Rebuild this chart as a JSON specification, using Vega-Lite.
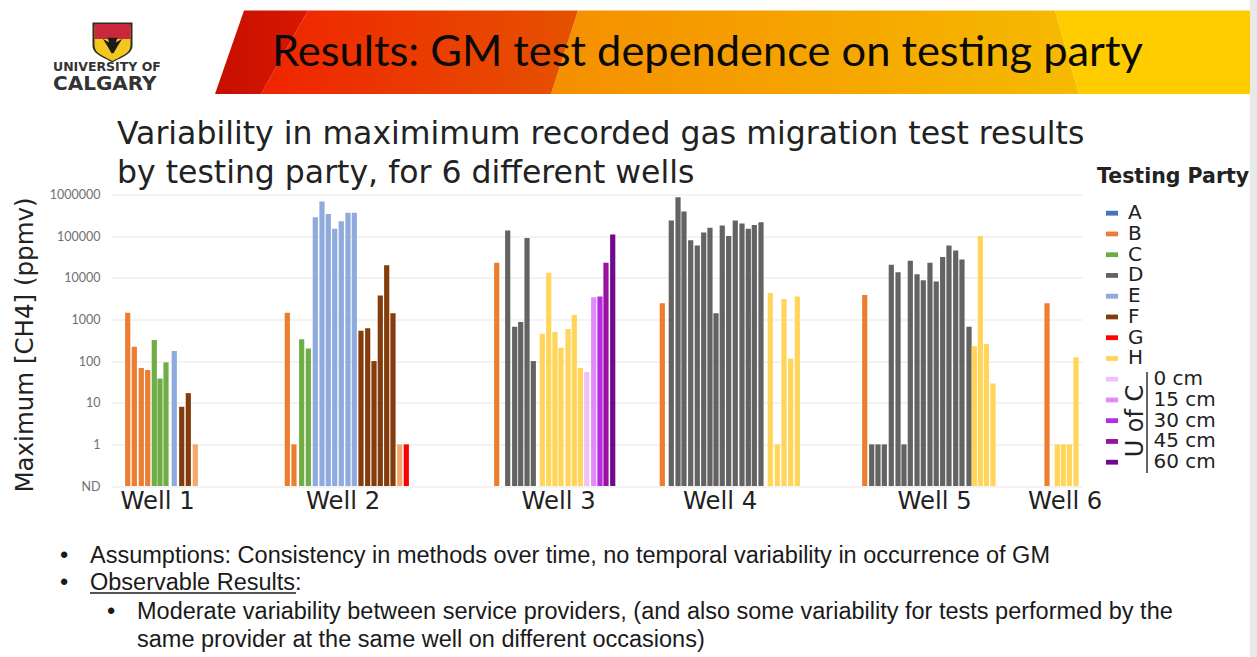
{
"$schema":"https://vega.github.io/schema/vega-lite/v6.json",
"width":970,"height":291.5,
"autosize":"none",
"padding":{"left":112,"top":194.5,"right":175,"bottom":171},
"background":"white",
"config":{"view":{"stroke":null}},
"resolve":{"scale":{"x":"independent","y":"independent"}},
"layer":[
{
"encoding":{
 "x":{"field":"slot","type":"quantitative","scale":{"domain":[0,150],"nice":false,"zero":false,"padding":0},"axis":null},
 "y":{"field":"value","type":"quantitative","stack":null,"scale":{"type":"log","domain":[0.1,1000000],"nice":false},
  "axis":{"title":"Maximum [CH4] (ppmv)","titleFont":"DejaVu Sans","titleFontSize":24.5,"titleFontWeight":"normal","titleColor":"#222222","titleX":-75,"titleY":150,
   "values":[0.1,1,10,100,1000,10000,100000,1000000],"labelExpr":"datum.value<1?'ND':format(datum.value,'d')","labelFont":"Lato","labelFontSize":12.5,"labelColor":"#707070","labelPadding":12,"labelOverlap":false,"labelBound":false,
   "ticks":false,"domain":false,"grid":true,"gridColor":"#efefef","gridWidth":1.5}}
},
"layer":[
{
"data":{"values":[
{"well":"Well 1","party":"B","slot":2.43,"value":1456},
{"well":"Well 1","party":"B","slot":3.45,"value":222},
{"well":"Well 1","party":"B","slot":4.53,"value":68},
{"well":"Well 1","party":"B","slot":5.52,"value":61},
{"well":"Well 1","party":"C","slot":6.54,"value":321},
{"well":"Well 1","party":"C","slot":7.42,"value":38},
{"well":"Well 1","party":"C","slot":8.35,"value":93},
{"well":"Well 1","party":"E","slot":9.63,"value":175},
{"well":"Well 1","party":"F","slot":10.78,"value":8},
{"well":"Well 1","party":"F","slot":11.8,"value":17},
{"well":"Well 1","party":"B light","slot":12.88,"value":1},
{"well":"Well 2","party":"B","slot":27.11,"value":1456},
{"well":"Well 2","party":"B","slot":28.14,"value":1},
{"well":"Well 2","party":"C","slot":29.33,"value":333},
{"well":"Well 2","party":"C","slot":30.36,"value":200},
{"well":"Well 2","party":"E","slot":31.44,"value":284000},
{"well":"Well 2","party":"E","slot":32.47,"value":676000},
{"well":"Well 2","party":"E","slot":33.45,"value":341000},
{"well":"Well 2","party":"E","slot":34.44,"value":151000},
{"well":"Well 2","party":"E","slot":35.46,"value":227000},
{"well":"Well 2","party":"E","slot":36.49,"value":367000},
{"well":"Well 2","party":"E","slot":37.47,"value":367000},
{"well":"Well 2","party":"F","slot":38.5,"value":538},
{"well":"Well 2","party":"F","slot":39.54,"value":612},
{"well":"Well 2","party":"F","slot":40.52,"value":100},
{"well":"Well 2","party":"F","slot":41.49,"value":3730},
{"well":"Well 2","party":"F","slot":42.48,"value":20000},
{"well":"Well 2","party":"F","slot":43.45,"value":1400},
{"well":"Well 2","party":"B light","slot":44.49,"value":1},
{"well":"Well 2","party":"G","slot":45.51,"value":1},
{"well":"Well 3","party":"B","slot":59.49,"value":23100},
{"well":"Well 3","party":"D","slot":61.19,"value":135800},
{"well":"Well 3","party":"D","slot":62.27,"value":671},
{"well":"Well 3","party":"D","slot":63.2,"value":870},
{"well":"Well 3","party":"D","slot":64.18,"value":90600},
{"well":"Well 3","party":"D","slot":65.15,"value":100},
{"well":"Well 3","party":"H","slot":66.54,"value":456},
{"well":"Well 3","party":"H","slot":67.53,"value":13300},
{"well":"Well 3","party":"H","slot":68.5,"value":500},
{"well":"Well 3","party":"H","slot":69.43,"value":210},
{"well":"Well 3","party":"H","slot":70.52,"value":590},
{"well":"Well 3","party":"H","slot":71.49,"value":1280},
{"well":"Well 3","party":"H","slot":72.42,"value":68},
{"well":"Well 3","party":"0 cm","slot":73.41,"value":55},
{"well":"Well 3","party":"15 cm","slot":74.49,"value":3400},
{"well":"Well 3","party":"30 cm","slot":75.46,"value":3530},
{"well":"Well 3","party":"45 cm","slot":76.39,"value":23100},
{"well":"Well 3","party":"60 cm","slot":77.43,"value":109000},
{"well":"Well 4","party":"B","slot":85.1,"value":2440},
{"well":"Well 4","party":"D","slot":86.49,"value":236000},
{"well":"Well 4","party":"D","slot":87.53,"value":859000},
{"well":"Well 4","party":"D","slot":88.45,"value":389000},
{"well":"Well 4","party":"D","slot":89.49,"value":79400},
{"well":"Well 4","party":"D","slot":90.51,"value":59300},
{"well":"Well 4","party":"D","slot":91.5,"value":121600},
{"well":"Well 4","party":"D","slot":92.47,"value":160000},
{"well":"Well 4","party":"D","slot":93.4,"value":1400},
{"well":"Well 4","party":"D","slot":94.37,"value":179000},
{"well":"Well 4","party":"D","slot":95.36,"value":101000},
{"well":"Well 4","party":"D","slot":96.38,"value":236000},
{"well":"Well 4","party":"D","slot":97.42,"value":200000},
{"well":"Well 4","party":"D","slot":98.4,"value":151000},
{"well":"Well 4","party":"D","slot":99.33,"value":186000},
{"well":"Well 4","party":"D","slot":100.36,"value":215000},
{"well":"Well 4","party":"H","slot":101.8,"value":4320},
{"well":"Well 4","party":"H","slot":102.88,"value":1},
{"well":"Well 4","party":"H","slot":103.92,"value":3100},
{"well":"Well 4","party":"H","slot":104.95,"value":114},
{"well":"Well 4","party":"H","slot":105.98,"value":3530},
{"well":"Well 5","party":"B","slot":116.4,"value":3870},
{"well":"Well 5","party":"D","slot":117.48,"value":1},
{"well":"Well 5","party":"D","slot":118.45,"value":1},
{"well":"Well 5","party":"D","slot":119.43,"value":1},
{"well":"Well 5","party":"D","slot":120.51,"value":20700},
{"well":"Well 5","party":"D","slot":121.55,"value":13500},
{"well":"Well 5","party":"D","slot":122.47,"value":1},
{"well":"Well 5","party":"D","slot":123.45,"value":25800},
{"well":"Well 5","party":"D","slot":124.49,"value":12100},
{"well":"Well 5","party":"D","slot":125.46,"value":8700},
{"well":"Well 5","party":"D","slot":126.49,"value":23100},
{"well":"Well 5","party":"D","slot":127.46,"value":8090},
{"well":"Well 5","party":"D","slot":128.45,"value":31600},
{"well":"Well 5","party":"D","slot":129.43,"value":59300},
{"well":"Well 5","party":"D","slot":130.47,"value":44900},
{"well":"Well 5","party":"D","slot":131.44,"value":27300},
{"well":"Well 5","party":"D","slot":132.53,"value":671},
{"well":"Well 5","party":"H","slot":133.35,"value":231},
{"well":"Well 5","party":"H","slot":134.28,"value":101000},
{"well":"Well 5","party":"H","slot":135.21,"value":257},
{"well":"Well 5","party":"H","slot":136.24,"value":29},
{"well":"Well 6","party":"B","slot":144.59,"value":2440},
{"well":"Well 6","party":"H","slot":146.18,"value":1},
{"well":"Well 6","party":"H","slot":147.11,"value":1},
{"well":"Well 6","party":"H","slot":148.04,"value":1},
{"well":"Well 6","party":"H","slot":149.07,"value":123}
]},
"mark":{"type":"bar","size":5.2,"orient":"vertical"},
"encoding":{
 "color":{"field":"party","type":"nominal",
  "scale":{"domain":["A","B","C","D","E","F","G","H","0 cm","15 cm","30 cm","45 cm","60 cm","B light"],
   "range":["#4472c4","#ed7d31","#70ad47","#636363","#8faadc","#843c0c","#ff0000","#ffd55a","#f0c0f8","#df8bf7","#b52be0","#9a109f","#6f0a8f","#f4a870"]},
  "legend":{"values":["A","B","C","D","E","F","G","H","0 cm","15 cm","30 cm","45 cm","60 cm"],"title":null,"orient":"none","legendX":990,"legendY":8.7,
   "symbolType":"M-1,-0.4H1V0.4H-1Z","symbolSize":144,"symbolStrokeWidth":0,"columns":1,
   "labelFont":"DejaVu Sans","labelFontSize":20,"labelColor":"#222222","labelOffset":6,"rowPadding":0.75,
   "labelExpr":"indexof(datum.label,'cm')>=0?'\u200b\u00a0\u00a0\u00a0\u00a0'+datum.label:datum.label"}}
}
},
{
"data":{"values":[
{"well":"Well 1","slot":7.04,"value":0.1},
{"well":"Well 2","slot":35.72,"value":0.1},
{"well":"Well 3","slot":69.05,"value":0.1},
{"well":"Well 4","slot":94.02,"value":0.1},
{"well":"Well 5","slot":127.2,"value":0.1},
{"well":"Well 6","slot":147.4,"value":0.1}
]},
"mark":{"type":"text","font":"DejaVu Sans","fontSize":24.3,"color":"#222222","dy":23,"baseline":"alphabetic","align":"center"},
"encoding":{"text":{"field":"well"}}
}
]
},
{
"encoding":{
 "x":{"field":"px","type":"quantitative","scale":{"domain":[112,1082],"range":[0,970],"nice":false,"zero":false},"axis":null},
 "y":{"field":"py","type":"quantitative","scale":{"domain":[194.5,486],"range":[0,291.5],"nice":false,"zero":false},"axis":null}
},
"layer":[
{"data":{"values":[{"px":1250,"px2":1257,"py":0,"py2":657}]},"mark":{"type":"rect","color":"#e9e9e9"},
 "encoding":{"x2":{"field":"px2"},"y2":{"field":"py2"}}},
{"data":{"values":[{"px":578,"px2":1055,"py":10.5},{"px":551,"px2":1079,"py":94}]},
 "mark":{"type":"area","orient":"horizontal","color":{"gradient":"linear","x1":0,"y1":0,"x2":1,"y2":0,"stops":[{"offset":0,"color":"#f58f00"},{"offset":1,"color":"#f6ba00"}]}},
 "encoding":{"x2":{"field":"px2"}}},
{"data":{"values":[{"px":308,"px2":578,"py":10.5},{"px":261,"px2":551,"py":94}]},
 "mark":{"type":"area","orient":"horizontal","color":{"gradient":"linear","x1":0,"y1":0,"x2":1,"y2":0,"stops":[{"offset":0,"color":"#f02400"},{"offset":1,"color":"#e55200"}]}},
 "encoding":{"x2":{"field":"px2"}}},
{"data":{"values":[{"px":244,"px2":308,"py":10.5},{"px":215,"px2":261,"py":94}]},
 "mark":{"type":"area","orient":"horizontal","color":{"gradient":"linear","x1":0,"y1":0,"x2":1,"y2":0,"stops":[{"offset":0,"color":"#c60f00"},{"offset":1,"color":"#d81800"}]}},
 "encoding":{"x2":{"field":"px2"}}},
{"data":{"values":[{"px":1055,"px2":1250,"py":10.5},{"px":1079,"px2":1250,"py":94}]},
 "mark":{"type":"area","orient":"horizontal","color":"#ffcc00"},
 "encoding":{"x2":{"field":"px2"}}},
{"data":{"values":[{"px":272,"py":66,"label":"Results: GM test dependence on testing party"}]},
 "mark":{"type":"text","font":"Lato","fontSize":43.4,"color":"#0a0a0a","align":"left","baseline":"alphabetic"},"encoding":{"text":{"field":"label"}}},
{"data":{"values":[{"px":112.5,"py":42.5}]},"mark":{"type":"point","filled":true,"opacity":1,"shape":"M-1,-1L1,-1L1,0.15C1,0.6 0.4,0.75 0,1C-0.4,0.75 -1,0.6 -1,0.15Z","size":1600,"color":"#2e2a20"}},
{"data":{"values":[{"px":112.5,"py":43}]},"mark":{"type":"point","filled":true,"opacity":1,"shape":"M-1,-1L1,-1L1,0.15C1,0.6 0.4,0.75 0,1C-0.4,0.75 -1,0.6 -1,0.15Z","size":1296,"color":"#f2c81e"}},
{"data":{"values":[{"px":112.5,"py":31.5}]},"mark":{"type":"point","filled":true,"opacity":1,"shape":"M-1,-0.42L1,-0.42L1,0.42L-1,0.42Z","size":1296,"color":"#c8283a"}},
{"data":{"values":[{"px":112.5,"py":43.5}]},"mark":{"type":"point","filled":true,"opacity":1,"shape":"M-1,-0.5L-0.35,-0.1L-0.5,-0.6L0.5,-0.6L0.35,-0.1L1,-0.5L0.5,0.3L0.1,1L-0.1,1L-0.5,0.3Z","size":380,"color":"#1c1a16"}},
{"data":{"values":[{"px":53,"py":71,"label":"UNIVERSITY OF"}]},"mark":{"type":"text","font":"DejaVu Sans","fontWeight":"bold","fontSize":12.5,"color":"#333333","align":"left","baseline":"alphabetic"},"encoding":{"text":{"field":"label"}}},
{"data":{"values":[{"px":53,"py":90,"label":"CALGARY"}]},"mark":{"type":"text","font":"DejaVu Sans","fontWeight":"bold","fontSize":20,"color":"#333333","align":"left","baseline":"alphabetic"},"encoding":{"text":{"field":"label"}}},
{"data":{"values":[{"px":117,"py":144,"label":"Variability in maximimum recorded gas migration test results"},{"px":117,"py":183,"label":"by testing party, for 6 different wells"}]},
 "mark":{"type":"text","font":"DejaVu Sans","fontSize":31.5,"color":"#222222","align":"left","baseline":"alphabetic"},"encoding":{"text":{"field":"label"}}},
{"data":{"values":[{"px":1097,"py":183,"label":"Testing Party"}]},"mark":{"type":"text","font":"DejaVu Sans","fontWeight":"bold","fontSize":20.5,"color":"#222222","align":"left","baseline":"alphabetic"},"encoding":{"text":{"field":"label"}}},
{"data":{"values":[{"px":1143,"py":421,"label":"U of C"}]},"mark":{"type":"text","font":"DejaVu Sans","fontSize":24,"color":"#222222","angle":270,"align":"center","baseline":"alphabetic"},"encoding":{"text":{"field":"label"}}},
{"data":{"values":[{"px":1147,"py":372,"py2":473}]},"mark":{"type":"rule","color":"#333333","strokeWidth":1.5},"encoding":{"y2":{"field":"py2"}}},
{"data":{"values":[{"px":90,"py":563,"label":"Assumptions: Consistency in methods over time, no temporal variability in occurrence of GM"},{"px":90,"py":590,"label":"Observable Results:"},{"px":137,"py":619,"label":"Moderate variability between service providers, (and also some variability for tests performed by the"},{"px":137,"py":647,"label":"same provider at the same well on different occasions)"},{"px":60,"py":563,"label":"•"},{"px":60,"py":590,"label":"•"},{"px":107,"py":619,"label":"•"}]},
 "mark":{"type":"text","font":"Liberation Sans","fontSize":23.5,"color":"#1a1a1a","align":"left","baseline":"alphabetic"},"encoding":{"text":{"field":"label"}}},
{"data":{"values":[{"px":90,"px2":296,"py":593}]},"mark":{"type":"rule","color":"#1a1a1a","strokeWidth":1.3},"encoding":{"x2":{"field":"px2"}}}
]
}
]
}
